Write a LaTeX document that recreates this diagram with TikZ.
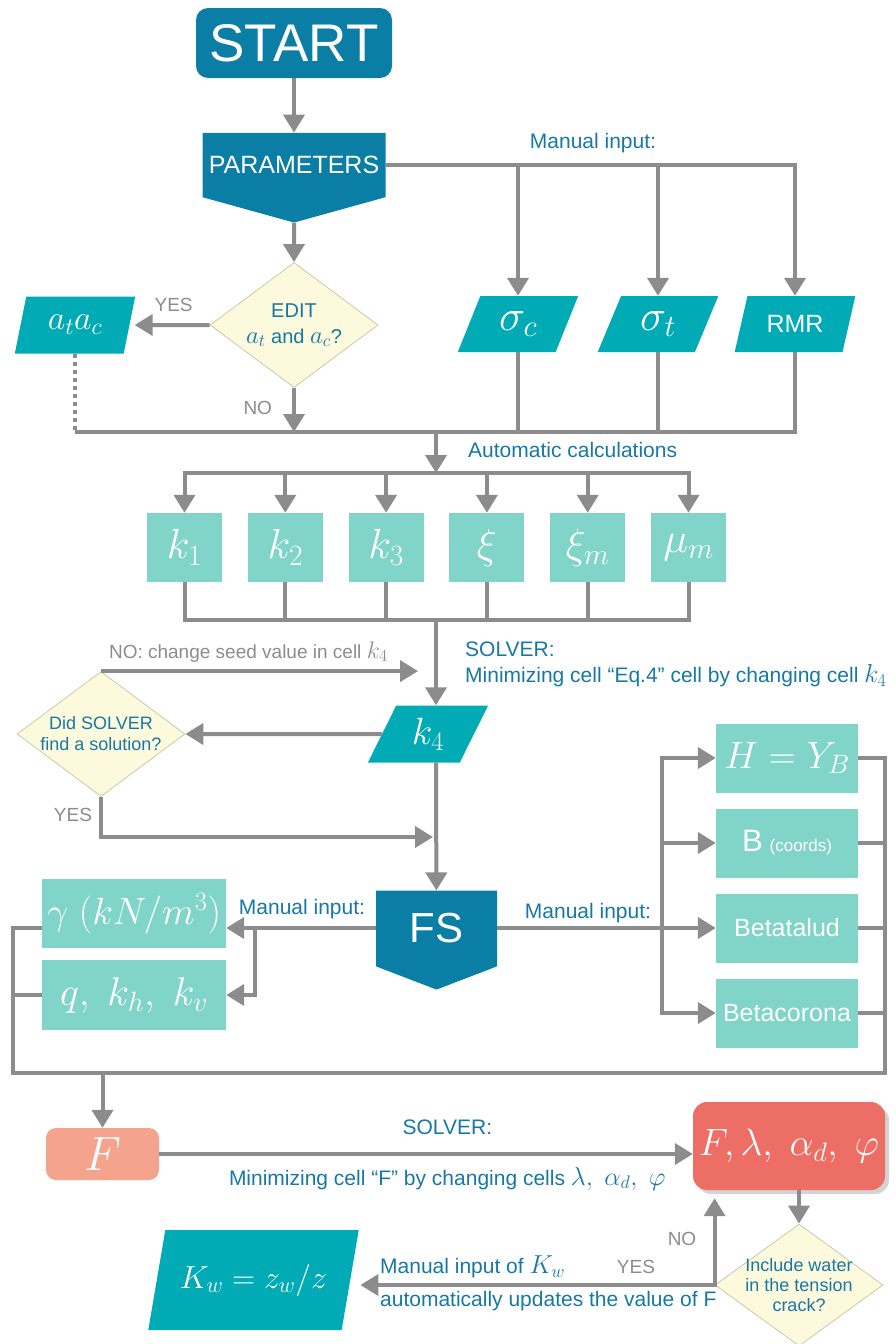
\RequirePackage{fix-cm}
\documentclass[tikz,border=0pt]{standalone}
\usepackage[no-math]{fontspec}
\setmainfont{Liberation Sans}
\usetikzlibrary{arrows.meta,positioning,shapes.geometric,shapes.symbols,shadows}

\definecolor{deepblue}{RGB}{10,126,164}
\definecolor{inputteal}{RGB}{0,171,181}
\definecolor{calcteal}{RGB}{128,212,200}
\definecolor{askfill}{RGB}{253,249,220}
\definecolor{askline}{RGB}{205,200,170}
\definecolor{fsalmon}{RGB}{244,163,141}
\definecolor{fcoral}{RGB}{237,110,100}
\definecolor{wire}{RGB}{140,140,140}
\definecolor{notes}{RGB}{22,120,165}

\begin{document}
\begin{tikzpicture}[x=1pt,y=-1pt,node distance=100.8pt,
        every node/.style={inner sep=0pt},
        flowtip/.tip={Triangle[width=21pt,length=18pt]},
        link/.style={draw=wire,line width=4pt},
        flow/.style={link,-flowtip},
        bigmath/.style={font=\fontsize{#1}{#1}\selectfont},
        startbox/.style={rectangle,rounded corners=12pt,fill=deepblue,text=white,
            minimum width=196pt,minimum height=70pt,font=\fontsize{53}{60}\selectfont},
        pointbox/.style={signal,signal to=south,fill=deepblue,text=white},
        inbox/.style={trapezium,trapezium left angle=66,trapezium right angle=114,
            trapezium stretches,fill=inputteal,text=white,minimum width=121pt,minimum height=56pt},
        calcbox/.style={rectangle,fill=calcteal,text=white,minimum width=75pt,
            minimum height=69pt,font=\fontsize{42}{46}\selectfont},
        sidebox/.style={rectangle,fill=calcteal,text=white,minimum width=142pt,
            minimum height=69pt,font=\fontsize{25}{30}\selectfont},
        askbox/.style={diamond,fill=askfill,draw=askline,line width=0.8pt,inner sep=-30pt,
            text=notes,align=center,minimum width=168pt,minimum height=125pt},
        note/.style={text=notes,font=\fontsize{21}{25}\selectfont,text height=15pt,text depth=4pt},
        remark/.style={text=wire,font=\fontsize{19}{23}\selectfont,text height=14pt,text depth=4pt}]

    \useasboundingbox (0,0) rectangle (895,1344);

    % input part
    \node[startbox] (start) at (294,43) {START};
    \node[pointbox,signal pointer angle=149,minimum width=183pt,minimum height=88pt,
        font=\fontsize{25}{30}\selectfont] (params) at (294,165) {PARAMETERS};
    \node[askbox,font=\fontsize{20}{26}\selectfont] (edit) at (294,325)
        {EDIT\\{\fontsize{25}{25}\selectfont$a_t$} and {\fontsize{25}{25}\selectfont$a_c$}?};
    \node[inbox,trapezium left angle=72,trapezium right angle=108,minimum height=57pt,
        font=\fontsize{34}{36}\selectfont] (atac) at (75,325) {$a_ta_c$};
    \node[inbox,font=\fontsize{44}{46}\selectfont] (sigc) at (518,324) {$\sigma_c$};
    \node[inbox,font=\fontsize{44}{46}\selectfont] (sigt) at (658,324) {$\sigma_t$};
    \node[inbox,font=\fontsize{25}{30}\selectfont] (rmr) at (795,324) {RMR};
    \node[note] (manual1) at (593,143) {Manual input:};

    \draw[flow] (start) -- (params);
    \draw[flow] (params) -- (edit);
    \draw[flow] (params.east) -| (rmr);
    \draw[flow] (params.east -| sigc) -- (sigc);
    \draw[flow] (params.east -| sigt) -- (sigt);
    \draw[flow,shorten >=5pt] (edit) -- node[remark,above=8pt,pos=0.45] (yes1) {YES} (atac);

    % merging towards the calculations
    \coordinate (mrg) at (436,432);
    \coordinate (dist) at (436,473);
    \coordinate (coll) at (436,620);
    \draw[flow] (edit) -- node[remark,left=20pt] (no1) {NO} (edit |- mrg);
    \draw[link,dash pattern=on 4pt off 4pt] (atac) -- (atac |- mrg);
    \draw[link] (atac.south |- mrg) -| (rmr);
    \draw[link] (sigc) -- (sigc |- mrg);
    \draw[link] (sigt) -- (sigt |- mrg);
    \draw[flow] (mrg) -- (dist);
    \node[note,anchor=west] (auto) at (468,452) {Automatic calculations};

    \node[calcbox] (k1) at (184.5,547.5) {$k_1$};
    \node[calcbox,right of=k1] (k2) {$k_2$};
    \node[calcbox,right of=k2] (k3) {$k_3$};
    \node[calcbox,right of=k3] (xi) {$\xi$};
    \node[calcbox,right of=xi] (xim) {$\xi_m$};
    \node[calcbox,right of=xim] (mum) {$\mu_m$};

    \draw[link,flowtip-flowtip] (k1) |- (dist) -| (mum);
    \draw[link] (k1) |- (coll) -| (mum);
    \foreach \k in {k2,k3,xi,xim} {
        \draw[flow] (\k |- dist) -- (\k);
        \draw[link] (\k) -- (\k |- coll);
    }

    % solver for k4
    \node[inbox,minimum height=57pt,font=\fontsize{38}{40}\selectfont] (k4) at (428,734) {$k_4$};
    \node[askbox,font=\fontsize{18}{21}\selectfont] (found) at (101,734) {Did SOLVER\\find a solution?};
    \node[note,anchor=west] (solv1) at (465,651) {SOLVER:};
    \node[note,anchor=west] (mineq) at (465,677)
        {Minimizing cell “Eq.4” cell by changing cell {\fontsize{26}{26}\selectfont$k_4$}};

    \draw[flow] (coll) -- (coll |- k4.north);
    \draw[flow] (k4) -- (found);
    \draw[flow,shorten >=18pt] (found.north) -- node[remark,above=7pt,pos=0.44] (seed)
        {NO: change seed value in cell {\fontsize{24}{24}\selectfont$k_4$}} (found.north -| coll);
    \coordinate (yesin) at (436,837);
    \draw[flow,shorten >=3pt] (found.south) |- node[remark,pos=0.25,left=7pt] (yes2) {YES} (yesin);

    % factor of safety and its inputs
    \node[pointbox,signal pointer angle=138,minimum width=121pt,minimum height=86pt,
        font=\fontsize{42}{48}\selectfont] (fs) at (436.5,928.5) {FS};
    \node[calcbox,minimum width=184pt,font=\fontsize{38}{40}\selectfont] (gam) at (134,913.5)
        {$\gamma\ (kN/m^3)$};
    \node[calcbox,minimum width=184pt,minimum height=70pt,font=\fontsize{40}{42}\selectfont,
        below of=gam,node distance=81.5pt] (qkk) {$q,\ k_h,\ k_v$};
    \node[sidebox,font=\fontsize{38}{40}\selectfont] (hyb) at (787,758) {$H=Y_B$};
    \node[sidebox,below of=hyb,node distance=85pt] (bco)
        {{\fontsize{31}{34}\selectfont B} \fontsize{17}{18}\selectfont(coords)};
    \node[sidebox,below of=bco,node distance=85pt] (beta) {Betatalud};
    \node[sidebox,below of=beta,node distance=85pt] (bcor) {Betacorona};
    \node[note] (manual2) at (302,909) {Manual input:};
    \node[note] (manual3) at (588,913) {Manual input:};

    \draw[flow] (k4.south -| coll) -- (fs);
    \coordinate (split) at (255,928);
    \coordinate (busx) at (662,928);
    \coordinate (rcorner) at (885,1073);
    \coordinate (lcorner) at (13,1073);
    \draw[flow] (fs.west |- beta.west) -- (gam.east |- beta.west);
    \draw[flow] (split) |- (qkk.east);
    \draw[flow] (fs.east |- beta.west) -- (beta.west);
    \draw[link,flowtip-flowtip] (hyb.west) -- (hyb.west -| busx) -- (bcor.west -| busx) -- (bcor.west);
    \draw[flow] (bco.west -| busx) -- (bco.west);
    \draw[link] (hyb.east) -| (rcorner) -- (lcorner) |- (gam.west |- beta.west);
    \foreach \b in {bco,beta,bcor}
        \draw[link] (\b.east) -- (\b.east -| rcorner);
    \draw[link] (qkk.west) -- (qkk.west -| lcorner);

    % search for the critical wedge
    \node[rectangle,rounded corners=10pt,fill=fsalmon,text=white,minimum width=113pt,
        minimum height=52pt,font=\fontsize{48}{50}\selectfont] (fbox) at (102.5,1154) {$F$};
    \node[rectangle,rounded corners=14pt,fill=fcoral,text=white,minimum width=192pt,
        minimum height=88pt,font=\fontsize{38}{40}\selectfont,
        drop shadow={shadow xshift=4pt,shadow yshift=-4pt,opacity=0.35}] (flam) at (789,1146)
        {$F, \lambda,\ \alpha_d,\ \varphi$};
    \node[askbox,minimum height=122pt,font=\fontsize{18}{20}\selectfont] (water) at (799,1285)
        {Include water\\in the tension\\crack?};
    \node[inbox,minimum width=211pt,minimum height=100pt,font=\fontsize{32}{34}\selectfont]
        (kw) at (253.5,1280) {$K_w=z_w/z$};

    \draw[flow] (fbox |- lcorner) -- (fbox);
    \draw[flow] (fbox) -- node[note,above=14pt,pos=0.54] (solv2) {SOLVER:}
        node[note,below=14pt,pos=0.54] (minf)
        {Minimizing cell “F” by changing cells {\fontsize{26}{26}\selectfont$\lambda,\ \alpha_d,\ \varphi$}}
        (flam.west |- fbox);
    \draw[flow] (water.north |- flam.south) -- (water);
    \draw[link,flowtip-flowtip,shorten <=8pt,shorten >=10pt]
        (water.west |- flam.south) -- (water.west) -- (water.west -| kw.east);
    \node[remark] (no2) at (682,1240) {NO};
    \node[remark] (yes3) at (636,1268) {YES};
    \node[note,anchor=west] (kwin) at (380,1268)
        {Manual input of {\fontsize{26}{26}\selectfont$K_w$}};
    \node[note,anchor=west] (kwout) at (380,1301) {automatically updates  the value of F};
\end{tikzpicture}
\end{document}
